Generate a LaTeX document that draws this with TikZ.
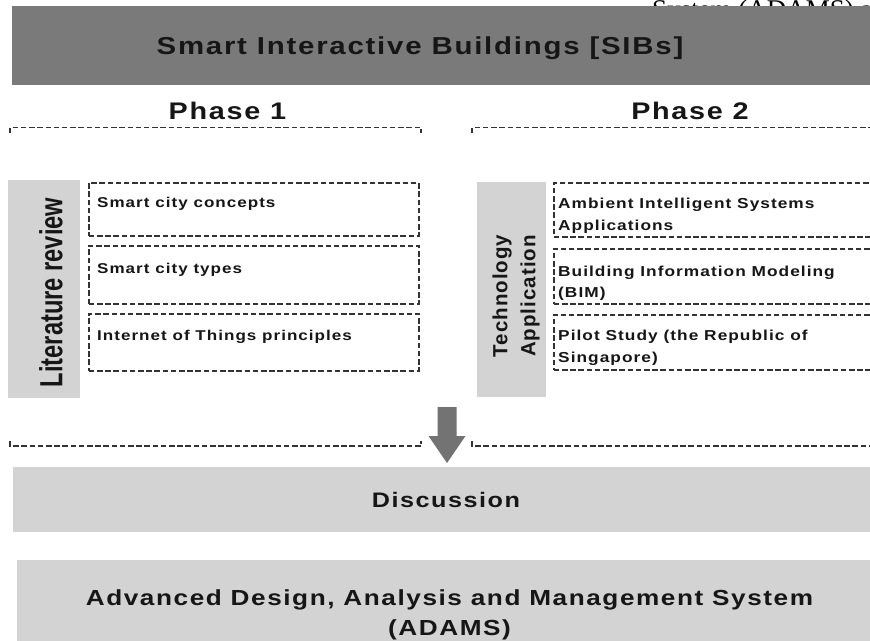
\documentclass[tikz,border=0pt]{standalone}
\usepackage{fontspec}
\setmainfont{Liberation Sans}
\newfontfamily\trk{Liberation Sans}[LetterSpace=6]
\newfontfamily\rotf{Liberation Sans}[LetterSpace=5]
\newfontfamily\serifx{Liberation Serif}
\usepackage{graphicx}
\newcommand\wtxt[1]{\scalebox{1.2}[1]{#1}}
\definecolor{barD}{HTML}{7A7A7A}
\definecolor{barL}{HTML}{D3D3D3}
\definecolor{barA}{HTML}{737373}
\definecolor{dashc}{HTML}{333333}
\definecolor{txtc}{HTML}{161616}
\begin{document}
\begin{tikzpicture}[x=1pt,y=-1pt,
  dline/.style={draw=dashc, line width=1.6pt, dash pattern=on 5.5pt off 2.7pt},
  dbox/.style={dline, rectangle, inner sep=0pt, anchor=north west},
  bar/.style={rectangle, inner sep=0pt, anchor=north west, draw=none},
  lbl/.style={inner sep=0pt, anchor=base west, text=txtc, font=\trk\bfseries\fontsize{14.2}{22}\selectfont},
  rlbl/.style={lbl, font=\trk\bfseries\fontsize{14.4}{22}\selectfont},
  head/.style={inner sep=0pt, anchor=base, text=txtc},
 ]
\clip (0,0) rectangle (870,640);
\fill[white] (0,0) rectangle (870,640);
% stray clipped text at the top
\node[anchor=base west, inner sep=0pt, font=\serifx\fontsize{27}{30}\selectfont] (stray) at (652,18.5) {System (ADAMS) a};
% title bar
\node[bar, fill=barD, minimum width=900pt, minimum height=79pt] (sib) at (12,6) {};
\node[head, font=\trk\bfseries\fontsize{24.5}{30}\selectfont] (sibt) at (420,54) {\wtxt{Smart Interactive Buildings [SIBs]}};
% phases
\node[head, font=\trk\bfseries\fontsize{24}{28}\selectfont] (p1) at (227.5,119) {\wtxt{Phase 1}};
\node[head, font=\trk\bfseries\fontsize{24}{28}\selectfont] (p2) at (690,119) {\wtxt{Phase 2}};
\draw[dline] (10,133) -- (10,127.5) -- (421,127.5) -- (421,133);
\draw[dline] (472,133) -- (472,127.5) -- (880,127.5);
% literature review column
\node[bar, fill=barL, minimum width=72pt, minimum height=218pt] (litbar) at (8,180) {};
\node[rotate=90, inner sep=0pt, text=txtc] (litt) at (51,292.5) {\scalebox{0.74}[1]{\fontsize{32}{36}\selectfont\bfseries Literature review}};
% left boxes
\node[dbox, minimum width=330pt, minimum height=53pt] (l1) at (88,182) {};
\node[dbox, minimum width=330pt, minimum height=58pt] (l2) at (88,245) {};
\node[dbox, minimum width=330pt, minimum height=57pt] (l3) at (88,313) {};
\node[lbl] (l1t) at (97,207.3) {\wtxt{Smart city concepts}};
\node[lbl] (l2t) at (97,273.3) {\wtxt{Smart city types}};
\node[lbl] (l3t) at (97,340.7) {\wtxt{Internet of Things principles}};
% technology application column
\node[bar, fill=barL, minimum width=69pt, minimum height=215pt] (techbar) at (477,182) {};
\node[rotate=90, align=center, inner sep=0pt, text=txtc, font=\rotf\bfseries\fontsize{20.5}{28}\selectfont] (techt) at (516,296) {Technology\\Application};
% right boxes
\node[dbox, minimum width=360pt, minimum height=54pt] (r1) at (553,182) {};
\node[dbox, minimum width=360pt, minimum height=55pt] (r2) at (553,248) {};
\node[dbox, minimum width=360pt, minimum height=55pt] (r3) at (553,314) {};
\node[rlbl] (r1a) at (558,208.3) {\wtxt{Ambient Intelligent Systems}};
\node[rlbl] (r1b) at (558,230) {\wtxt{Applications}};
\node[rlbl] (r2a) at (558,276) {\wtxt{Building Information Modeling}};
\node[rlbl] (r2b) at (558,297.7) {\wtxt{(BIM)}};
\node[rlbl] (r3a) at (558,340.7) {\wtxt{Pilot Study (the Republic of}};
\node[rlbl] (r3b) at (558,362.7) {\wtxt{Singapore)}};
% bottom bracket lines
\draw[dline] (10,441) -- (10,446) -- (421,446) -- (421,441);
\draw[dline] (472,441) -- (472,446) -- (880,446);
% arrow
\fill[barA] (437.5,407) -- (456.5,407) -- (456.5,436) -- (465.5,436) -- (447,463) -- (428.5,436) -- (437.5,436) -- cycle;
% discussion
\node[bar, fill=barL, minimum width=900pt, minimum height=65pt] (disc) at (13,467) {};
\node[head, font=\trk\bfseries\fontsize{21}{26}\selectfont] (disct) at (446,507) {\wtxt{Discussion}};
% ADAMS
\node[bar, fill=barL, minimum width=900pt, minimum height=100pt] (adams) at (17,560) {};
\node[head, font=\trk\bfseries\fontsize{21.8}{26}\selectfont] (ad1) at (449.5,605) {\wtxt{Advanced Design, Analysis and Management System}};
\node[head, font=\trk\bfseries\fontsize{21.8}{26}\selectfont] (ad2) at (449.5,635) {\wtxt{(ADAMS)}};
\end{tikzpicture}
\end{document}
